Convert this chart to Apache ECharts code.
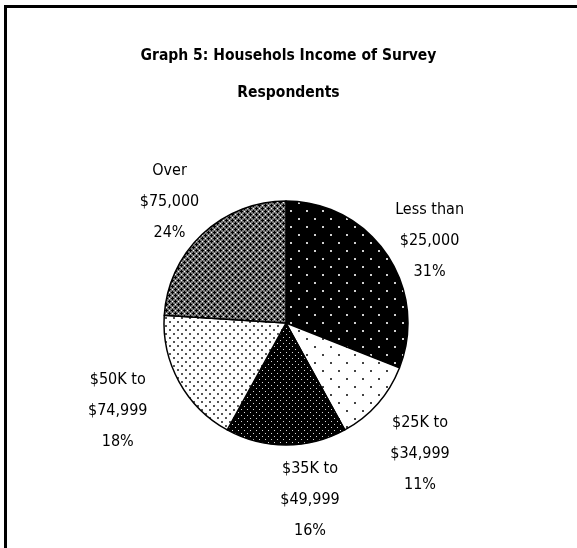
<!DOCTYPE html>
<html>
<head>
<meta charset="utf-8">
<script src="https://cdn.jsdelivr.net/npm/echarts@6/dist/echarts.min.js"></script>
<style>
  html, body { margin: 0; padding: 0; background: #fff; }
  #frame {
    position: absolute; left: 4px; top: 5px; width: 573px; height: 543px;
    border-top: 3px solid #000; border-left: 3px solid #000;
  }
  #chart { position: absolute; left: 0; top: 0; width: 577px; height: 548px; }
</style>
</head>
<body>
<div id="frame"></div>
<div id="chart"></div>
<script>
// 数据
const titleText = "Graph 5: Househols Income of Survey\nRespondents";
const categories = [
    "Less than\n$25,000",
    "$25K to\n$34,999",
    "$35K to\n$49,999",
    "$50K to\n$74,999",
    "Over\n$75,000"
];
const percents = [31, 11, 16, 18, 24];

// 标签布局：沿扇区中线放置，再做少量偏移（与原图对齐）
const pieCenter = [286, 323];
const pieRadius = 122;
const labelDistance = 176;
const labelNudge = [[-2, 17], [2, 14], [24, 1], [-14, 3], [4, 7]];

const fontName = "'Liberation Sans Narrow', 'DejaVu Sans Condensed', sans-serif";

// 图案填充（模拟原图的网点效果）
const makePattern = (size, bg, fg, dots, dotSize) => {
    let c = document.createElement("canvas");
    c.width = size;
    c.height = size;
    let ctx = c.getContext("2d");
    ctx.fillStyle = bg;
    ctx.fillRect(0, 0, size, size);
    ctx.fillStyle = fg;
    for (let d of dots) {
        ctx.fillRect(d[0], d[1], dotSize, dotSize);
    }
    return { image: c, repeat: "repeat" };
};

const crossPattern = () => {
    let c = document.createElement("canvas");
    c.width = 6;
    c.height = 6;
    let ctx = c.getContext("2d");
    ctx.fillStyle = "#777";
    ctx.fillRect(0, 0, 6, 6);
    ctx.fillStyle = "#000";
    ctx.fillRect(1, 0, 1, 3);
    ctx.fillRect(0, 1, 3, 1);
    ctx.fillRect(4, 3, 1, 3);
    ctx.fillRect(3, 4, 3, 1);
    ctx.fillStyle = "#fff";
    ctx.fillRect(4, 1, 1, 1);
    ctx.fillRect(1, 4, 1, 1);
    return { image: c, repeat: "repeat" };
};

const patterns = [
    makePattern(16, "#000", "#d0d0d0", [[2, 2], [10, 10]], 2),
    makePattern(16, "#fff", "#444", [[2, 2], [10, 10]], 2),
    makePattern(6, "#000", "#ddd", [[1, 1], [4, 4]], 1),
    makePattern(8, "#fff", "#555", [[1, 1], [5, 5]], 2),
    crossPattern()
];

// 各扇区中线角度（从12点方向顺时针）
const total = percents.reduce((a, b) => a + b, 0);
let midAngles = [];
let acc = 0;
for (let p of percents) {
    midAngles.push(((acc + p / 2) / total) * Math.PI * 2);
    acc += p;
}

let chart = echarts.init(document.getElementById("chart"));

let seriesData = [];
for (let i = 0; i < categories.length; i++) {
    seriesData.push({
        name: categories[i],
        value: percents[i],
        itemStyle: { color: patterns[i] }
    });
}

chart.setOption({
    backgroundColor: "transparent",
    animation: false,
    title: {
        text: titleText,
        left: "center",
        top: 32,
        textStyle: {
            fontFamily: fontName,
            fontSize: 15.5,
            fontWeight: "bold",
            lineHeight: 37,
            color: "#000"
        }
    },
    series: [
        {
            type: "pie",
            center: pieCenter,
            radius: pieRadius,
            startAngle: 90,
            clockwise: true,
            data: seriesData,
            itemStyle: {
                borderColor: "#000",
                borderWidth: 1.5
            },
            label: {
                show: true,
                position: "outside",
                formatter: "{b}\n{c}%",
                fontFamily: fontName,
                fontSize: 16,
                lineHeight: 31,
                color: "#000"
            },
            labelLine: { show: false },
            labelLayout: params => {
                let i = params.dataIndex;
                let a = midAngles[i];
                return {
                    x: pieCenter[0] + labelDistance * Math.sin(a) + labelNudge[i][0],
                    y: pieCenter[1] - labelDistance * Math.cos(a) + labelNudge[i][1],
                    align: "center",
                    verticalAlign: "middle"
                };
            }
        }
    ]
});
</script>
</body>
</html>
